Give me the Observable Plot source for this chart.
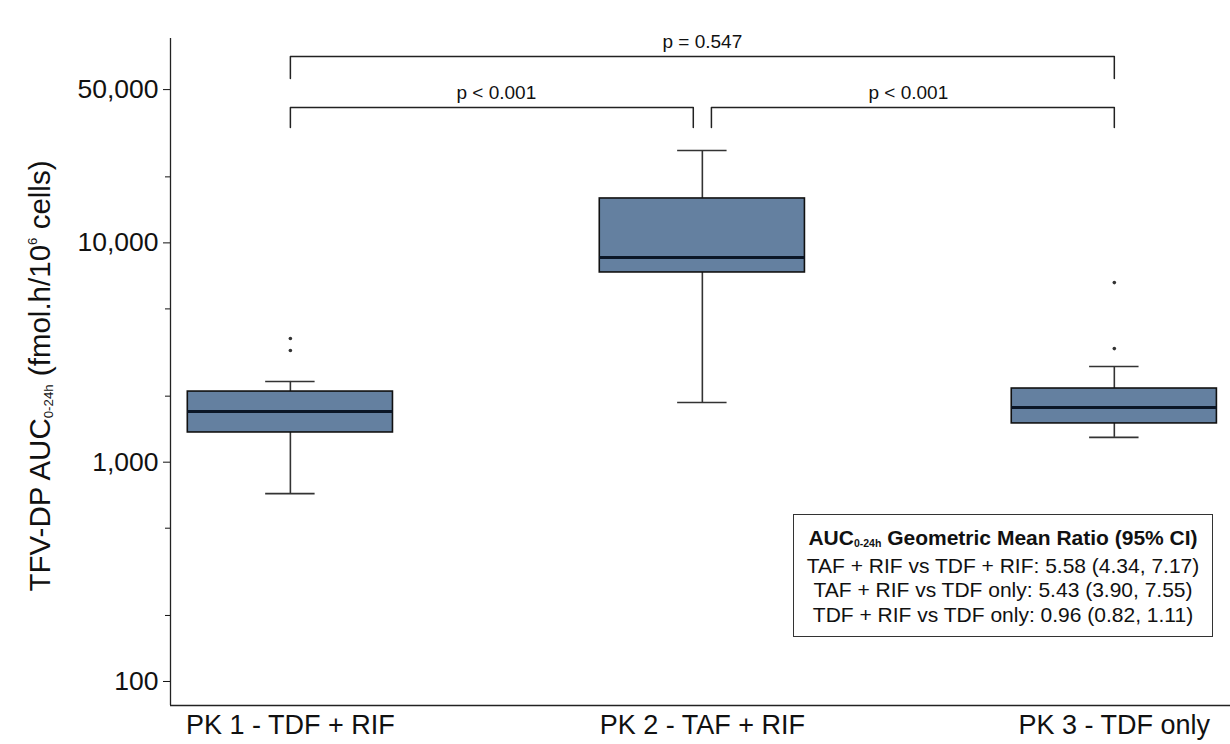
<!DOCTYPE html>
<html><head><meta charset="utf-8">
<script src="https://cdn.jsdelivr.net/npm/d3@7"></script>
<script src="https://cdn.jsdelivr.net/npm/@observablehq/plot@0.6"></script>
<style>
body{margin:0;background:#fff;font-family:"Liberation Sans",Arial,sans-serif;color:#111}
#wrap{position:relative;width:1230px;height:744px;overflow:hidden}
#wrap svg{position:absolute;left:0;top:0}
#ylab{position:absolute;left:40px;top:376px;transform:translate(-50%,-50%) rotate(-90deg);white-space:nowrap;font-size:29.5px;line-height:32px;color:#111}
#ylab sub{font-size:0.45em;vertical-align:-0.2em;line-height:0}
#ylab sup{font-size:0.45em;vertical-align:1em;line-height:0}
#legend{position:absolute;left:793px;top:514px;width:420px;height:123px;border:1.5px solid #333;text-align:center;font-size:21px;line-height:24.5px;padding-top:11px;box-sizing:border-box;color:#111}
#legend sub{font-size:0.5em;vertical-align:-0.15em;line-height:0}
#legend .t{font-weight:bold;margin-bottom:3px}
</style></head><body>
<div id="wrap"><div id="ylab">TFV-DP AUC<sub>0-24h</sub> (fmol.h/10<sup>6</sup> cells)</div><div id="legend"></div></div>
<script>
// Groups and box statistics (fmol.h/10^6 cells)
const groups = ["PK 1 - TDF + RIF", "PK 2 - TAF + RIF", "PK 3 - TDF only"];
const whiskerLow = [719, 1871, 1297];
const q1 = [1366, 7330, 1502];
const median = [1702, 8570, 1776];
const q3 = [2099, 15940, 2167];
const whiskerHigh = [2334, 26360, 2729];
const outlierGroup = [1, 1, 3, 3];
const outlierValue = [3664, 3229, 6590, 3296];

// Y-axis ticks
const majorTicks = [100, 1000, 10000, 50000];
const minorTicks = [200, 500, 2000, 5000, 20000];

// Significance brackets
const bracketFrom = [1, 2, 1];
const bracketTo = [2, 3, 3];
const bracketLabel = ["p < 0.001", "p < 0.001", "p = 0.547"];
const bracketLevel = [41400, 41400, 70800];
const bracketLeg = [33600, 33600, 56200];

// Geometric mean ratio legend
const legendTitle = "Geometric Mean Ratio (95% CI)";
const comparisons = ["TAF + RIF vs TDF + RIF", "TAF + RIF vs TDF only", "TDF + RIF vs TDF only"];
const gmr = [5.58, 5.43, 0.96];
const ciLow = [4.34, 3.90, 0.82];
const ciHigh = [7.17, 7.55, 1.11];

const xDomain = [0.709, 3.282];
const yDomain = [77.7, 85500];
const HALF = 0.249, CAP = 0.06, GAP = 0.022;
const FONT = '"Liberation Sans", Arial, sans-serif';

const boxes = groups.map((g, i) => ({i: i + 1, lo: whiskerLow[i], q1: q1[i], med: median[i], q3: q3[i], hi: whiskerHigh[i]}));
const outliers = outlierGroup.map((g, k) => ({i: g, v: outlierValue[k]}));
const bracketPts = [];
bracketFrom.forEach((f, k) => {
  const a = f + (f === 2 ? GAP : 0), b = bracketTo[k] - (bracketTo[k] === 2 ? GAP : 0);
  bracketPts.push({k, x: a, y: bracketLeg[k]}, {k, x: a, y: bracketLevel[k]}, {k, x: b, y: bracketLevel[k]}, {k, x: b, y: bracketLeg[k]});
});
const bracketText = bracketLabel.map((t, k) => ({t, x: (bracketFrom[k] + bracketTo[k]) / 2, y: bracketLevel[k]}));

const chart = Plot.plot({
  width: 1230, height: 744,
  marginTop: 38, marginBottom: 39, marginLeft: 170, marginRight: 0,
  style: {fontFamily: FONT, color: "#111", background: "transparent"},
  x: {type: "linear", domain: xDomain, label: null},
  y: {type: "log", domain: yDomain, label: null},
  marks: [
    Plot.axisY({ticks: minorTicks, tickFormat: () => "", tickSize: 5}),
    Plot.axisY({ticks: majorTicks, tickFormat: () => "", tickSize: 7}),
    Plot.text(majorTicks, {x: xDomain[0], y: d => d, text: d => d3.format(",")(d), textAnchor: "end", dx: -12, fontSize: 26.5}),
    Plot.axisX({ticks: [1, 2, 3], tickFormat: i => groups[i - 1], tickSize: 0, tickPadding: 9, fontSize: 27}),
    Plot.ruleX([xDomain[0]], {stroke: "#222", strokeWidth: 1.3}),
    Plot.ruleY([yDomain[0]], {stroke: "#222", strokeWidth: 1.3}),
    Plot.ruleX(boxes, {x: "i", y1: "q3", y2: "hi", stroke: "#333", strokeWidth: 1.6}),
    Plot.ruleX(boxes, {x: "i", y1: "lo", y2: "q1", stroke: "#333", strokeWidth: 1.6}),
    Plot.ruleY(boxes, {x1: d => d.i - CAP, x2: d => d.i + CAP, y: "hi", stroke: "#333", strokeWidth: 1.6}),
    Plot.ruleY(boxes, {x1: d => d.i - CAP, x2: d => d.i + CAP, y: "lo", stroke: "#333", strokeWidth: 1.6}),
    Plot.rectY(boxes, {x1: d => d.i - HALF, x2: d => d.i + HALF, y1: "q1", y2: "q3", fill: "#6480a0", stroke: "#111", strokeWidth: 1.6}),
    Plot.ruleY(boxes, {x1: d => d.i - HALF, x2: d => d.i + HALF, y: "med", stroke: "#0b1626", strokeWidth: 3}),
    Plot.dot(outliers, {x: "i", y: "v", r: 1.8, fill: "#333", stroke: null}),
    Plot.line(bracketPts, {x: "x", y: "y", z: "k", stroke: "#222", strokeWidth: 1.5}),
    Plot.text(bracketText, {x: "x", y: "y", text: "t", dy: -15, fontSize: 19})
  ]
});
document.getElementById("wrap").prepend(chart);

const leg = document.getElementById("legend");
leg.innerHTML = `<div class="t">AUC<sub>0-24h</sub> ${legendTitle}</div>` +
  comparisons.map((c, k) => `<div>${c}: ${gmr[k].toFixed(2)} (${ciLow[k].toFixed(2)}, ${ciHigh[k].toFixed(2)})</div>`).join("");
</script>
</body></html>
